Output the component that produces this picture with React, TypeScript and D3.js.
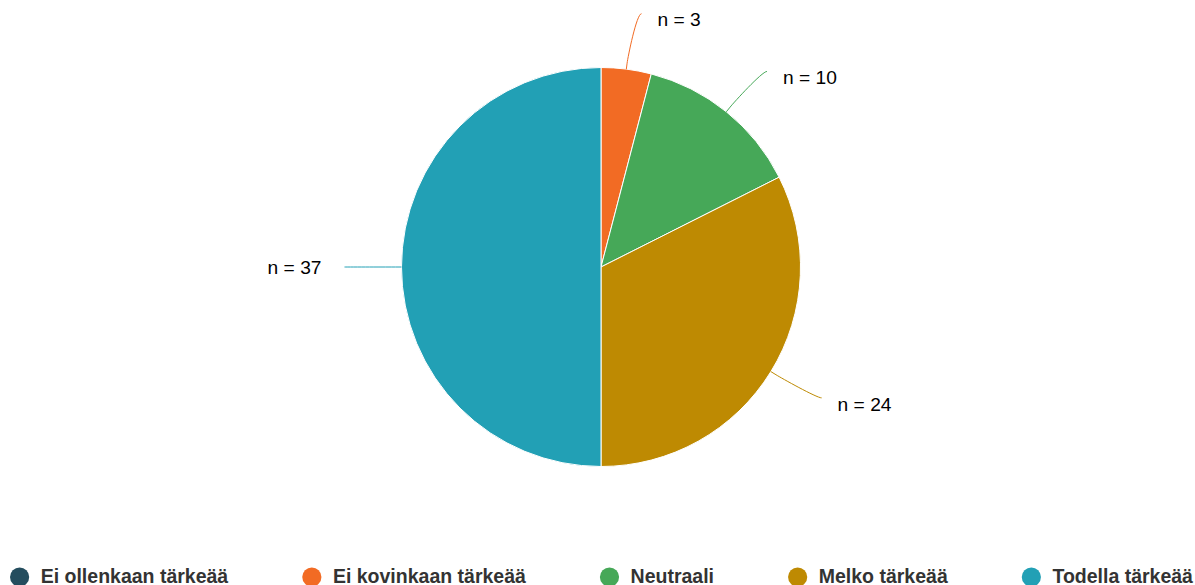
import React, { useRef, useEffect } from 'react';
import * as d3 from 'd3';

// answer categories and counts, in legend order
const categories = ['Ei ollenkaan tärkeää', 'Ei kovinkaan tärkeää', 'Neutraali', 'Melko tärkeää', 'Todella tärkeää'];
const counts = [0, 3, 10, 24, 37];
const colors = ['#244d5e', '#f26b24', '#46a858', '#be8a02', '#22a0b5'];

const W = 1195;
const H = 585;
const FONT = '"Liberation Sans", Arial, Helvetica, sans-serif';

const PieChart = () => {
  const svgRef = useRef<SVGSVGElement>(null);

  useEffect(() => {
    drawPie();
  }, []);

  const drawPie = () => {
    const svg = d3.select(svgRef.current);
    svg.selectAll('*').remove();

    const cx = 601;
    const cy = 267;
    const r = 199.5;

    const data = categories.map((c, i) => ({ name: c, value: counts[i], color: colors[i] }));

    const pie = d3.pie<any>().value(d => d.value).sort(null);
    const arcs = pie(data).filter(a => a.data.value > 0);

    const arc = d3.arc<any>().innerRadius(0).outerRadius(r);

    const g = svg.append('g').attr('transform', `translate(${cx},${cy})`);

    g.selectAll('path.slice')
      .data(arcs)
      .join('path')
      .attr('class', 'slice')
      .attr('d', arc)
      .attr('fill', d => d.data.color)
      .attr('stroke', '#ffffff')
      .attr('stroke-width', 1)
      .attr('stroke-linejoin', 'round');

    const polar = (a: number, rad: number) => [Math.sin(a) * rad, -Math.cos(a) * rad];

    // connectors + labels
    arcs.forEach(a => {
      const mid = (a.startAngle + a.endAngle) / 2;
      const right = Math.sin(mid) >= 0;
      // labels drift a little towards the horizontal
      const nudge = (1.8 * Math.PI / 180) * Math.cos(mid) * (right ? 1 : -1);
      const T = polar(mid, r);
      const B = polar(mid, r + 6);
      const E = polar(mid + nudge, r + 57);
      const path =
        `M${E[0]},${E[1]} C${E[0] + (right ? -5 : 5)},${E[1]} ${2 * B[0] - T[0]},${2 * B[1] - T[1]} ${B[0]},${B[1]} L${T[0]},${T[1]}`;
      g.append('path')
        .attr('d', path)
        .attr('fill', 'none')
        .attr('stroke', a.data.color)
        .attr('stroke-width', 1);

      g.append('text')
        .attr('x', right ? E[0] + 16 : E[0] - 23)
        .attr('y', right ? E[1] + 6 : E[1])
        .attr('dy', '0.35em')
        .attr('text-anchor', right ? 'start' : 'end')
        .attr('font-family', FONT)
        .attr('font-size', 19.2)
        .attr('fill', '#000000')
        .text(`n = ${a.data.value}`);
    });

    // legend, centred horizontally
    const legend = svg.append('g');
    const dotR = 9.6;
    const textGap = 11.5;
    const itemDistance = 74;
    const items = data.map(d => {
      const item = legend.append('g');
      item.append('circle')
        .attr('cx', dotR)
        .attr('cy', 0)
        .attr('r', dotR)
        .attr('fill', d.color);
      const t = item.append('text')
        .attr('x', dotR * 2 + textGap)
        .attr('y', 6)
        .attr('font-family', FONT)
        .attr('font-size', 19.5)
        .attr('font-weight', 'bold')
        .attr('fill', '#333333')
        .text(d.name);
      const tw = (t.node() as SVGTextElement).getComputedTextLength();
      return { item, w: dotR * 2 + textGap + tw };
    });
    const total = d3.sum(items, d => d.w) + itemDistance * (items.length - 1);
    let x = (W - total) / 2 + 4;
    items.forEach(it => {
      it.item.attr('transform', `translate(${x},577)`);
      x += it.w + itemDistance;
    });
  };

  return (
    <svg
      ref={svgRef}
      width={W}
      height={H}
      style={{ position: 'fixed', left: 0, top: 0, background: '#ffffff' }}
    ></svg>
  );
};

export default function App() {
  return <PieChart />;
}
